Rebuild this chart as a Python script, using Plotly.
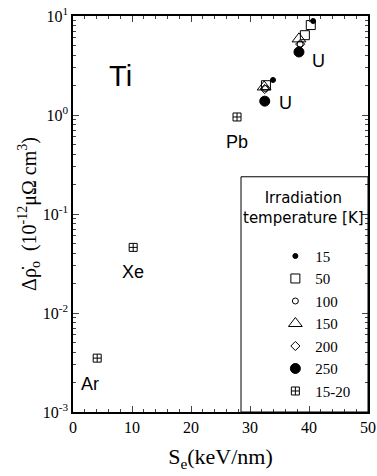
import math
import plotly.graph_objects as go

# Data (S_e in keV/nm, damage rate in 10^-12 µΩ cm^3)
temps = ["15", "50", "100", "150", "200", "250", "15-20"]
se_15 = [33.9, 40.7]
rho_15 = [2.26, 8.9]
se_50 = [32.7, 39.3, 40.3]
rho_50 = [2.0, 6.4, 8.1]
se_100 = [32.6, 38.5]
rho_100 = [1.85, 5.2]
se_150 = [32.4, 38.3]
rho_150 = [1.92, 5.87]
se_200 = [32.5, 38.5]
rho_200 = [1.83, 5.2]
se_250 = [32.5, 38.3]
rho_250 = [1.38, 4.33]
se_1520 = [4.1, 10.2, 27.8]
rho_1520 = [0.0035, 0.046, 0.955]

ion_labels = ["Ar", "Xe", "Pb", "U", "U"]
ion_x = [2.9, 10.2, 27.8, 36.0, 41.6]
ion_y = [0.0019, 0.026, 0.53, 1.32, 3.5]

x_ticks = [0, 10, 20, 30, 40, 50]
y_tickvals = [1e-3, 1e-2, 1e-1, 1e0, 1e1]
y_ticktext = ["10<sup>-3</sup>", "10<sup>-2</sup>", "10<sup>-1</sup>", "10<sup>0</sup>", "10<sup>1</sup>"]

fig = go.Figure()

styles = [
    (se_15, rho_15, "circle", 5),
    (se_50, rho_50, "square-open", 9),
    (se_100, rho_100, "circle-open", 6),
    (se_150, rho_150, "triangle-up-open", 12),
    (se_200, rho_200, "diamond-open", 7),
    (se_250, rho_250, "circle", 10),
    (se_1520, rho_1520, "square-cross-open", 8),
]
for name, (xs, ys, sym, sz) in zip(temps, styles):
    fig.add_trace(go.Scatter(
        x=xs, y=ys, mode="markers", name=name,
        marker=dict(symbol=sym, size=sz, color="black", line=dict(color="black", width=1)),
    ))

for t, x, y in zip(ion_labels, ion_x, ion_y):
    fig.add_annotation(x=x, y=math.log10(y), xref="x", yref="y", text=t, showarrow=False,
                       font=dict(family="Liberation Sans", size=18, color="black"))
fig.add_annotation(x=8.0, y=math.log10(2.5), xref="x", yref="y", text="Ti", showarrow=False,
                   font=dict(family="Liberation Sans", size=29, color="black"))

# legend box and title
fig.add_shape(type="rect", xref="paper", yref="paper", x0=0.5695, x1=1.0, y0=0.0, y1=0.594,
              line=dict(color="black", width=1), fillcolor="rgba(0,0,0,0)")
fig.add_annotation(xref="paper", yref="paper", x=0.783, y=0.516, xanchor="center", yanchor="middle",
                   showarrow=False, text="Irradiation<br>temperature [K]",
                   font=dict(family="DejaVu Sans", size=15, color="black"))

fig.update_layout(
    width=377, height=476,
    margin=dict(l=73, r=9, t=16, b=64),
    paper_bgcolor="white", plot_bgcolor="white",
    font=dict(family="Liberation Serif", color="black"),
    showlegend=True,
    legend=dict(
        x=0.686, y=0.435, xanchor="left", yanchor="top",
        bgcolor="rgba(0,0,0,0)", borderwidth=0,
        font=dict(family="Liberation Serif", size=15),
        itemwidth=30,
    ),
    xaxis=dict(
        range=[0, 50], tickvals=x_ticks, ticks="inside", ticklen=6,
        showline=True, linecolor="black", linewidth=1.5, mirror="allticks",
        showgrid=False, zeroline=False, automargin=False,
        tickfont=dict(family="Liberation Serif", size=16),
        minor=dict(ticks="inside", ticklen=3, dtick=2, showgrid=False),
        title=dict(text="S<sub>e</sub>(keV/nm)", font=dict(family="Liberation Serif", size=22), standoff=14),
    ),
    yaxis=dict(
        type="log", range=[-3, 1], tickmode="array", tickvals=y_tickvals, ticktext=y_ticktext,
        ticks="inside", ticklen=6, showline=True, linecolor="black", linewidth=1.5,
        mirror="allticks", showgrid=False, zeroline=False, automargin=False,
        tickfont=dict(family="Liberation Serif", size=16),
        minor=dict(ticks="inside", ticklen=3, dtick="D1", showgrid=False),
        title=dict(text="Δρ\u0307<sub>o</sub>  (10<sup>-12</sup>μΩ cm<sup>3</sup>)",
                   font=dict(family="Liberation Serif", size=20), standoff=0),
    ),
)

fig.write_html("out.html")
